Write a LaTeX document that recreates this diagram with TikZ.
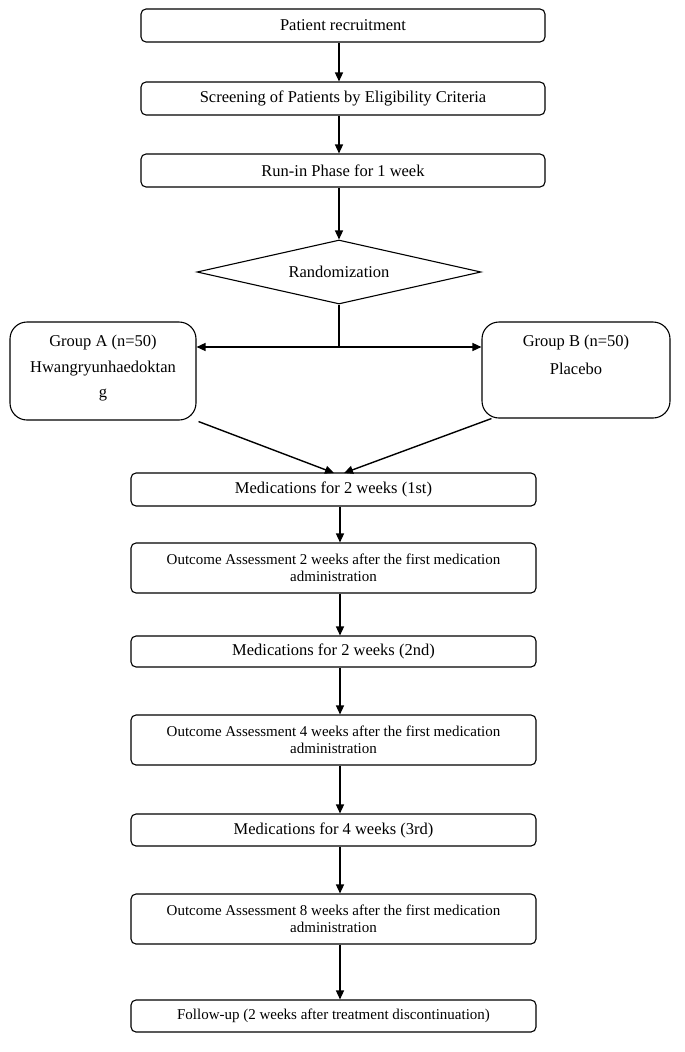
\documentclass[tikz,border=0pt]{standalone}
\usepackage{fontspec}
\setmainfont{Liberation Serif}
\usetikzlibrary{arrows.meta,shapes.geometric}
\begin{document}
\begin{tikzpicture}[x=1pt,y=-1pt,
  every path/.style={line width=1.1pt},
  box/.style={draw,rounded corners=5pt,line width=1.1pt,inner sep=0pt,align=center,
    minimum width=404pt,minimum height=33pt,font=\fontsize{16.5}{19}\selectfont},
  lbox/.style={box,minimum width=405pt},
  obox/.style={lbox,minimum height=50pt,font=\fontsize{15}{17.5}\selectfont},
  gbox/.style={draw,rounded corners=17pt,line width=1.1pt,inner sep=0pt,align=center,
    font=\fontsize{16.5}{27}\selectfont},
  decision/.style={draw,diamond,line width=1.1pt,inner sep=0pt,aspect=4.44,
    minimum width=284pt,minimum height=64pt,font=\fontsize{16.5}{19}\selectfont},
  arr/.style={-{Triangle[length=9pt,width=8pt]},line width=1.4pt}
]
\useasboundingbox (0,0) rectangle (685,1052);

\node[box] (rec) at (343,25.5) {Patient recruitment};
\node[box] (scr) at (343,98.5) {Screening of Patients by Eligibility Criteria};
\node[box] (run) at (343,170.5) {Run-in Phase for 1 week};
\node[decision] (rand) at (339,272) {Randomization};

\node[gbox,minimum width=186pt,minimum height=98pt] (ga) at (103,371) {};
\node[font=\fontsize{16.5}{19}\selectfont] (gat1) at (103,343) {Group A (n=50)};
\node[font=\fontsize{16.5}{19}\selectfont] (gat2) at (103,369) {Hwangryunhaedoktan};
\node[font=\fontsize{16.5}{19}\selectfont] (gat3) at (103,395) {g};
\node[gbox,minimum width=188pt,minimum height=96pt] (gb) at (576,370) {};
\node[font=\fontsize{16.5}{19}\selectfont] (gbt1) at (576,343) {Group B (n=50)};
\node[font=\fontsize{16.5}{19}\selectfont] (gbt2) at (576,369) {Placebo};

\node[lbox] (m1) at (333.5,489.5) {Medications for 2 weeks (1st)};
\node[obox] (o2) at (333.5,568) {Outcome Assessment 2 weeks after the first medication\\administration};
\node[lbox,minimum height=31pt] (m2) at (333.5,651.5) {Medications for 2 weeks (2nd)};
\node[obox] (o4) at (333.5,740) {Outcome Assessment 4 weeks after the first medication\\administration};
\node[lbox,minimum height=32pt] (m3) at (333.5,830) {Medications for 4 weeks (3rd)};
\node[obox] (o8) at (333.5,919) {Outcome Assessment 8 weeks after the first medication\\administration};
\node[lbox,minimum height=32pt,font=\fontsize{15}{17.5}\selectfont] (fu) at (333.5,1016) {Follow-up (2 weeks after treatment discontinuation)};

\coordinate (split) at (339,347);
\coordinate (meet) at (339,473);

\draw[arr] ([xshift=-4pt]rec.south) -- ([xshift=-4pt]scr.north);
\draw[arr] ([xshift=-4pt]scr.south) -- ([xshift=-4pt]run.north);
\draw[arr] ([xshift=-4pt]run.south) -- (rand.north);
\draw[line width=1.4pt] (rand.south) -- (split);
\draw[arr] (split) -- (split -| ga.east);
\draw[arr] (split) -- (split -| gb.west);
\draw[arr] ([xshift=2pt,yshift=-1pt]ga.south east) -- ([xshift=-5pt]meet);
\draw[arr] ([xshift=10pt]gb.south west) -- ([xshift=5pt]meet);
\draw[arr] ([xshift=6.5pt]m1.south) -- ([xshift=6.5pt]o2.north);
\draw[arr] ([xshift=6.5pt]o2.south) -- ([xshift=6.5pt]m2.north);
\draw[arr] ([xshift=6.5pt]m2.south) -- ([xshift=6.5pt]o4.north);
\draw[arr] ([xshift=6.5pt]o4.south) -- ([xshift=6.5pt]m3.north);
\draw[arr] ([xshift=6.5pt]m3.south) -- ([xshift=6.5pt]o8.north);
\draw[arr] ([xshift=6.5pt]o8.south) -- ([xshift=6.5pt]fu.north);
\end{tikzpicture}
\end{document}
